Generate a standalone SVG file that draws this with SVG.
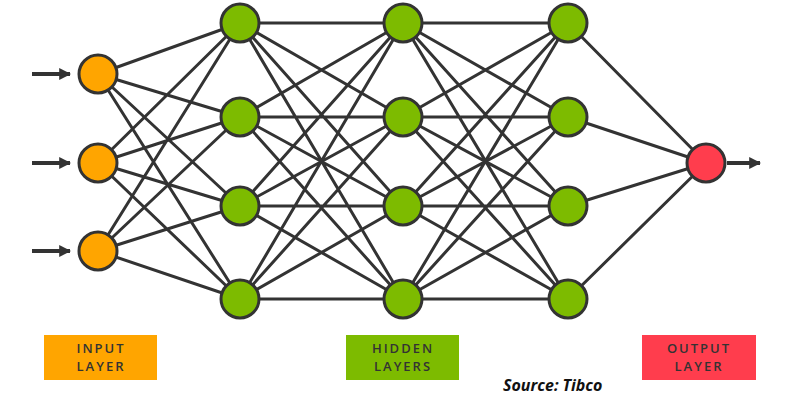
<svg xmlns="http://www.w3.org/2000/svg" width="800" height="407" viewBox="0 0 800 407">
<defs>
<marker id="ah" viewBox="0 0 10 10" refX="9" refY="5" markerWidth="3" markerHeight="3" orient="auto" markerUnits="strokeWidth">
<path d="M0,0 L10,5 L0,10 z" fill="#333"/>
</marker>
<style>
.e{stroke:#333;stroke-width:3;fill:none}
.a{stroke:#333;stroke-width:4;fill:none}
.n{stroke:#333;stroke-width:3}
.in{fill:#FFA500}
.hd{fill:#7DBB00}
.out{fill:#FF3D4D}
.lbl{font-family:"Open Sans","Liberation Sans",sans-serif;font-size:13px;font-weight:600;letter-spacing:2px;fill:#333;text-anchor:middle}
.src{font-family:"Open Sans","Liberation Sans",sans-serif;font-size:16px;font-weight:bold;font-style:italic;fill:#111}
</style>
</defs>
<rect width="800" height="407" fill="#fff"/>
<g id="connectors">
<path class="a" d="M32,74H70" marker-end="url(#ah)"/>
<path class="a" d="M32,163H70" marker-end="url(#ah)"/>
<path class="a" d="M32,251H70" marker-end="url(#ah)"/>
<path class="a" d="M727,163H760" marker-end="url(#ah)"/>
<path class="e" d="M98,74L240,23M98,74L240,117M98,74L240,206M98,74L240,299
M98,163L240,23M98,163L240,117M98,163L240,206M98,163L240,299
M98,251L240,23M98,251L240,117M98,251L240,206M98,251L240,299"/>
<path class="e" d="M240,23L403,23M240,23L403,117M240,23L403,206M240,23L403,299
M240,117L403,23M240,117L403,117M240,117L403,206M240,117L403,299
M240,206L403,23M240,206L403,117M240,206L403,206M240,206L403,299
M240,299L403,23M240,299L403,117M240,299L403,206M240,299L403,299"/>
<path class="e" d="M403,23L568,23M403,23L568,117M403,23L568,206M403,23L568,299
M403,117L568,23M403,117L568,117M403,117L568,206M403,117L568,299
M403,206L568,23M403,206L568,117M403,206L568,206M403,206L568,299
M403,299L568,23M403,299L568,117M403,299L568,206M403,299L568,299"/>
<path class="e" d="M568,23L706,163M568,117L706,163M568,206L706,163M568,299L706,163"/>
</g>
<g id="input-1"><circle class="n in" cx="98" cy="74" r="19"/></g>
<g id="input-2"><circle class="n in" cx="98" cy="163" r="19"/></g>
<g id="input-3"><circle class="n in" cx="98" cy="251" r="19"/></g>
<g id="h1-1"><circle class="n hd" cx="240" cy="23" r="19"/></g>
<g id="h1-2"><circle class="n hd" cx="240" cy="117" r="19"/></g>
<g id="h1-3"><circle class="n hd" cx="240" cy="206" r="19"/></g>
<g id="h1-4"><circle class="n hd" cx="240" cy="299" r="19"/></g>
<g id="h2-1"><circle class="n hd" cx="403" cy="23" r="19"/></g>
<g id="h2-2"><circle class="n hd" cx="403" cy="117" r="19"/></g>
<g id="h2-3"><circle class="n hd" cx="403" cy="206" r="19"/></g>
<g id="h2-4"><circle class="n hd" cx="403" cy="299" r="19"/></g>
<g id="h3-1"><circle class="n hd" cx="568" cy="23" r="19"/></g>
<g id="h3-2"><circle class="n hd" cx="568" cy="117" r="19"/></g>
<g id="h3-3"><circle class="n hd" cx="568" cy="206" r="19"/></g>
<g id="h3-4"><circle class="n hd" cx="568" cy="299" r="19"/></g>
<g id="output"><circle class="n out" cx="706" cy="163" r="19"/></g>
<g id="label-input">
<rect x="44" y="335" width="113" height="45" fill="#FFA500"/>
<text class="lbl" x="101" y="353">INPUT</text>
<text class="lbl" x="101" y="371">LAYER</text>
</g>
<g id="label-hidden">
<rect x="346" y="335" width="113" height="45" fill="#7DBB00"/>
<text class="lbl" x="403" y="353">HIDDEN</text>
<text class="lbl" x="403" y="371">LAYERS</text>
</g>
<g id="label-output">
<rect x="642" y="335" width="114" height="45" fill="#FF3D4D"/>
<text class="lbl" x="699" y="353">OUTPUT</text>
<text class="lbl" x="699" y="371">LAYER</text>
</g>
<text class="src" x="503" y="391">Source: Tibco</text>
</svg>
